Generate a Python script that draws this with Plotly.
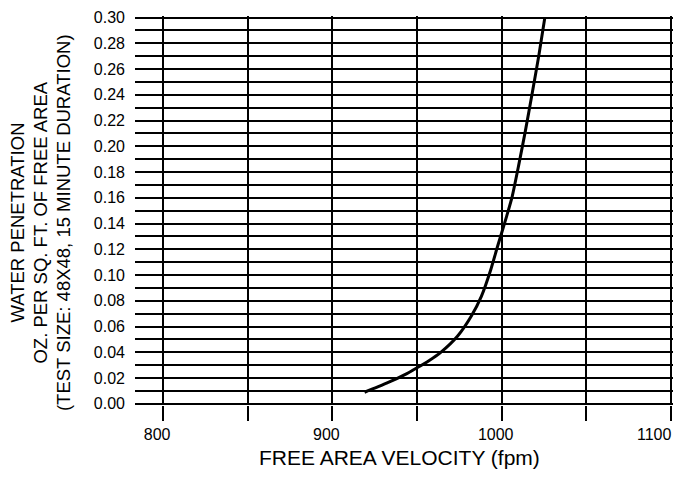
import plotly.graph_objects as go

# Data
velocity = [919, 932, 944, 950, 957, 964, 974, 982, 988, 993.5, 997.5, 1000.5, 1003,
            1006.2, 1010, 1014, 1018, 1022, 1025.5]
penetration = [0.009, 0.016, 0.0235, 0.028, 0.0335, 0.040, 0.0527, 0.068, 0.0835, 0.104, 0.122, 0.135, 0.146,
               0.161, 0.185, 0.212, 0.241, 0.271, 0.300]

x_ticks = [800, 850, 900, 950, 1000, 1050, 1100]
x_ticktext = ["800", "", "900", "", "1000", "", "1100"]
y_ticks = [i / 100 for i in range(0, 31)]
y_ticktext = [f"{v:.2f}" if i % 2 == 0 else "" for i, v in enumerate(y_ticks)]

x_title = "FREE AREA VELOCITY (fpm)"
y_title_lines = ["WATER PENETRATION",
                 "OZ. PER SQ. FT. OF FREE AREA",
                 "(TEST SIZE: 48X48, 15 MINUTE DURATION)"]

FONT = "Liberation Sans, Arial, sans-serif"

# page body has an 8px margin: figure drawn 8px in from the window edge
OFF = 8
W, H = 686 - 2 * OFF, 483 - 2 * OFF
PL, PR, PT, PB = 135 - OFF, 673.3 - OFF, 16 - OFF, 405 - OFF  # plot box in figure px


def px_x(px):
    return (px - OFF - PL) / (PR - PL)


def px_y(py):
    return (PB - (py - OFF)) / (PB - PT)


fig = go.Figure()
fig.add_trace(go.Scatter(
    x=velocity, y=penetration, mode="lines",
    line=dict(color="black", width=3, shape="spline", smoothing=0.6),
    showlegend=False, hoverinfo="skip",
))

annotations = [
    dict(text=x_title, xref="paper", yref="paper",
         x=px_x(400), y=px_y(457.5),
         xanchor="center", yanchor="middle", showarrow=False,
         font=dict(size=21, family=FONT, color="black")),
    # last tick label sits at the page edge: anchor it by its right side so it stays whole
    dict(text=x_ticktext[-1], xref="x", yref="paper",
         x=x_ticks[-1], y=px_y(434), xshift=3,
         xanchor="right", yanchor="middle", showarrow=False,
         font=dict(size=16, family=FONT, color="black")),
]
for line_text, cx in zip(y_title_lines, [17, 40, 63.5]):
    annotations.append(dict(
        text=line_text, xref="paper", yref="paper",
        x=px_x(cx), y=px_y(222.5),
        xanchor="center", yanchor="middle", showarrow=False, textangle=-90,
        font=dict(size=18.5, family=FONT, color="black")))

axis_ticktext = x_ticktext[:-1] + [""]

fig.update_layout(
    width=W, height=H,
    margin=dict(l=PL, r=W - PR, t=PT, b=H - PB, pad=0),
    paper_bgcolor="white", plot_bgcolor="white",
    font=dict(family=FONT, color="black"),
    xaxis=dict(
        range=[783.4, 1101.2], automargin=False,
        tickvals=x_ticks, ticktext=axis_ticktext,
        showgrid=True, gridcolor="black", gridwidth=2,
        ticks="outside", ticklen=15, tickwidth=2, tickcolor="black",
        tickfont=dict(size=16, family=FONT, color="black"),
        ticklabeloverflow="allow", ticklabelshift=-6,
        zeroline=False, showline=False,
    ),
    yaxis=dict(
        range=[-0.0009, 0.3012], automargin=False,
        tickvals=y_ticks, ticktext=y_ticktext,
        showgrid=True, gridcolor="black", gridwidth=2,
        ticks="", ticklabelstandoff=9, ticklabeloverflow="allow",
        tickfont=dict(size=16, family=FONT, color="black"),
        zeroline=False, showline=False,
    ),
    annotations=annotations,
)

fig.write_html("out.html")
